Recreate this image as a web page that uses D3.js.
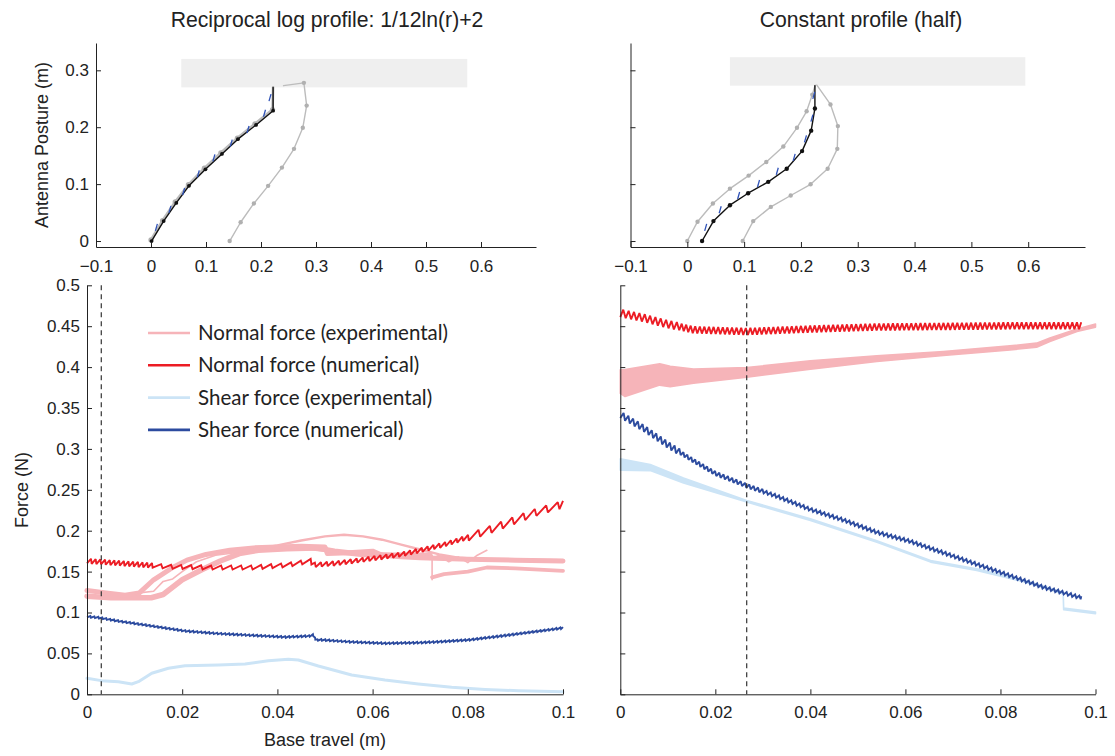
<!DOCTYPE html>
<html>
<head>
<meta charset="utf-8">
<script src="https://cdn.jsdelivr.net/npm/d3@7"></script>
<style>
  body { margin: 0; background: #fff; }
  svg { display: block; }
</style>
</head>
<body>
<svg id="fig" width="1115" height="756"></svg>
<script>
// ---------- antenna posture, [x, y] in metres ----------
const logPostureNumerical = [[0.001,0],[0.023,0.035],[0.046,0.067],[0.069,0.097],[0.099,0.126],[0.129,0.153],[0.158,0.179],[0.191,0.204],[0.222,0.229],[0.222,0.27]];
const logPostureMeasured  = [[0,0.002],[0.021,0.036],[0.044,0.069],[0.068,0.099],[0.097,0.128],[0.127,0.155],[0.157,0.181],[0.189,0.206],[0.221,0.231],[0.222,0.27]];
const logPostureInitial   = [[0.143,0],[0.163,0.033],[0.187,0.066],[0.213,0.097],[0.238,0.129],[0.26,0.162],[0.276,0.199],[0.283,0.238],[0.278,0.278],[0.241,0.273]];
const logForceMarks       = [[0.0094,0.024],[0.034,0.0557],[0.059,0.087],[0.0856,0.118],[0.114,0.146],[0.1455,0.172],[0.176,0.196],[0.206,0.2246],[0.216,0.252]];
const logObstacle         = [0.055, 0.575, 0.27, 0.32];   // x0, x1, y0, y1

const constPostureNumerical = [[0.026,0],[0.046,0.035],[0.075,0.063],[0.107,0.084],[0.1425,0.104],[0.175,0.127],[0.202,0.158],[0.218,0.194],[0.2246,0.233],[0.2246,0.273]];
const constPostureLeft      = [[0,0],[0.018,0.034],[0.045,0.066],[0.075,0.092],[0.108,0.115],[0.139,0.139],[0.169,0.166],[0.193,0.199],[0.21,0.228],[0.22,0.257],[0.225,0.274]];
const constPostureRight     = [[0.0975,0],[0.116,0.035],[0.147,0.06],[0.182,0.08],[0.217,0.0997],[0.247,0.127],[0.264,0.162],[0.265,0.202],[0.252,0.24],[0.228,0.274]];
const constForceMarks       = [[0.032,0.024],[0.0575,0.055],[0.09,0.08],[0.125,0.101],[0.158,0.1226],[0.1877,0.147],[0.2076,0.1795],[0.219,0.216],[0.2223,0.256]];
const constObstacle         = [0.075, 0.595, 0.273, 0.323];

// ---------- forces, [base travel (m), force (N)] ----------
const logNormalNum = [[0,0.163],[0.005,0.161],[0.01,0.159],[0.017,0.156],[0.026,0.155],[0.035,0.155],[0.042,0.158],[0.047,0.163],[0.0475,0.158],[0.052,0.16],[0.06,0.166],[0.066,0.171],[0.07,0.176],[0.075,0.183],[0.08,0.192],[0.085,0.202],[0.09,0.213],[0.095,0.224],[0.1,0.232]];
const logShearNum  = [[0,0.095],[0.0027,0.0936],[0.0066,0.0895],[0.0136,0.0835],[0.0206,0.0774],[0.0276,0.0742],[0.0346,0.0721],[0.0416,0.07],[0.047,0.0713],[0.0475,0.0725],[0.0482,0.0655],[0.0486,0.0668],[0.0556,0.064],[0.0626,0.0623],[0.0696,0.0631],[0.0731,0.064],[0.0801,0.0664],[0.0871,0.0713],[0.0941,0.0766],[0.1,0.0811]];
const logShearExp  = [[0,0.0196],[0.003,0.0167],[0.0066,0.0154],[0.0094,0.0126],[0.0108,0.0154],[0.0136,0.0257],[0.0171,0.0318],[0.0206,0.035],[0.0276,0.0358],[0.0332,0.037],[0.0381,0.041],[0.0423,0.0428],[0.0444,0.042],[0.0486,0.0346],[0.0556,0.0236],[0.0626,0.0175],[0.0696,0.0126],[0.0766,0.0085],[0.0836,0.006],[0.0906,0.0044],[0.1,0.003]];
// experimental normal-force trials
const logNormalTrial1 = [[0,0.127],[0.004,0.124],[0.008,0.121],[0.011,0.124],[0.014,0.14],[0.018,0.155],[0.021,0.164],[0.025,0.171],[0.03,0.176],[0.035,0.179],[0.04,0.18],[0.045,0.181],[0.05,0.18],[0.0505,0.172],[0.055,0.173],[0.06,0.175],[0.062,0.17],[0.066,0.168],[0.07,0.167],[0.075,0.166],[0.08,0.165],[0.09,0.164],[0.1,0.163]];
const logNormalTrial2 = [[0,0.12],[0.005,0.118],[0.01,0.118],[0.0135,0.118],[0.016,0.122],[0.02,0.14],[0.024,0.152],[0.028,0.163],[0.032,0.172],[0.036,0.176],[0.042,0.178],[0.048,0.179],[0.052,0.175],[0.058,0.171],[0.065,0.17],[0.072,0.17]];
const logNormalTrial2Drop = [[0.0725,0.17],[0.0725,0.14]];
const logNormalTrial2Tail = [[0.0725,0.143],[0.075,0.147],[0.08,0.15],[0.084,0.155],[0.09,0.154],[0.1,0.151]];
const logNormalTrial3 = [[0.008,0.122],[0.011,0.124],[0.014,0.126],[0.016,0.138],[0.018,0.141],[0.02,0.15],[0.023,0.162],[0.027,0.17],[0.035,0.176],[0.045,0.178],[0.055,0.172],[0.062,0.17],[0.068,0.168],[0.072,0.165],[0.074,0.17],[0.076,0.162],[0.078,0.168],[0.08,0.161],[0.082,0.17],[0.084,0.176]];
const logNormalTrial4 = [[0.03,0.174],[0.035,0.177],[0.04,0.182],[0.045,0.188],[0.05,0.193],[0.054,0.195],[0.058,0.193],[0.062,0.189],[0.066,0.183],[0.07,0.177],[0.074,0.171],[0.078,0.167],[0.084,0.165],[0.09,0.165],[0.1,0.164]];
const logContactTravel = 0.003;

const constNormalNum = [[0,0.466],[0.005,0.46],[0.009,0.4538],[0.0154,0.4456],[0.0266,0.4435],[0.04,0.4465],[0.054,0.449],[0.068,0.4497],[0.082,0.4505],[0.097,0.4505]];
const constShearNum  = [[0,0.342],[0.005,0.325],[0.01,0.305],[0.015,0.287],[0.02,0.27],[0.0266,0.255],[0.033,0.242],[0.04,0.226],[0.047,0.213],[0.054,0.198],[0.061,0.187],[0.068,0.173],[0.075,0.159],[0.082,0.145],[0.089,0.131],[0.097,0.118]];
// experimental bands: [travel, low, high]
const constNormalExpBand = [[0,0.368,0.3967],[0.001,0.364,0.397],[0.0083,0.378,0.404],[0.0105,0.376,0.401],[0.0154,0.3804,0.3975],[0.0266,0.3877,0.3995],[0.04,0.3975,0.4077],[0.054,0.4069,0.4138],[0.068,0.4142,0.419],[0.082,0.421,0.426],[0.0876,0.4244,0.4293],[0.0904,0.4313,0.4355],[0.0961,0.4435,0.4465],[0.1,0.4489,0.4526]];
const constShearExpBand  = [[0,0.2739,0.2878],[0.0063,0.2735,0.2808],[0.0133,0.2584,0.2645],[0.0266,0.235,0.237],[0.04,0.2126,0.2146],[0.054,0.1858,0.1878],[0.0653,0.1616,0.1636],[0.075,0.1514,0.1534],[0.0852,0.137,0.139],[0.0932,0.1227,0.1247],[0.0933,0.1034,0.1054],[0.1,0.0985,0.1005]];
const constContactTravel = 0.0266;

// ---------- ticks and text ----------
const postureXTicks  = [-0.1,0,0.1,0.2,0.3,0.4,0.5,0.6];
const postureXLabels = ["\u22120.1","0","0.1","0.2","0.3","0.4","0.5","0.6"];
const postureYTicks  = [0,0.1,0.2,0.3];
const postureYLabels = ["0","0.1","0.2","0.3"];
const travelTicks    = [0,0.02,0.04,0.06,0.08,0.1];
const travelLabels   = ["0","0.02","0.04","0.06","0.08","0.1"];
const forceTicks     = [0,0.05,0.1,0.15,0.2,0.25,0.3,0.35,0.4,0.45,0.5];
const forceLabels    = ["0","0.05","0.1","0.15","0.2","0.25","0.3","0.35","0.4","0.45","0.5"];
const legendLabels   = ["Normal force (experimental)","Normal force (numerical)","Shear force (experimental)","Shear force (numerical)"];
const panelTitles    = ["Reciprocal log profile: 1/12ln(r)+2","Constant profile (half)"];

// ---------- styling ----------
const FONT = '"Liberation Sans", Arial, Helvetica, sans-serif';
const INK = "#222";
const C = {
  normalExp: "#f6b4b9", normalNum: "#ec1c24",
  shearExp: "#cce4f6", shearNum: "#2c4b9f",
  grey: "#bcbcbc", greyDot: "#b0b0b0", black: "#111", mark: "#2f52b8", obstacle: "#efefef"
};

const svg = d3.select("#fig");

// scales
const pxL = d3.scaleLinear().domain([-0.1, 0.7]).range([96, 536]);
const pxR = d3.scaleLinear().domain([-0.1, 0.7]).range([630.5, 1085]);
const pyT = d3.scaleLinear().domain([-0.0105, 0.348]).range([247, 43]);
const txL = d3.scaleLinear().domain([0, 0.1]).range([87, 563]);
const txR = d3.scaleLinear().domain([0, 0.1]).range([620.3, 1095.5]);
const fy  = d3.scaleLinear().domain([0, 0.5]).range([694.3, 285.3]);

function styleAxis(sel, size) {
  sel.attr("font-family", null).attr("font-size", null);
  sel.select(".domain").attr("stroke", INK).attr("stroke-width", 1);
  sel.selectAll(".tick line").attr("stroke", INK).attr("stroke-width", 1);
  sel.selectAll(".tick text").attr("fill", INK)
     .style("font-family", FONT).style("font-size", size + "px");
}

function axes(x, y, xt, xl, yt, yl, opt) {
  const g = svg.append("g");
  g.append("g").attr("transform", `translate(0,${y.range()[0]})`)
    .call(d3.axisBottom(x).tickValues(xt).tickFormat((d, i) => xl[i])
      .tickSizeInner(-5).tickSizeOuter(0).tickPadding(opt.xPad))
    .call(s => styleAxis(s, opt.size));
  g.append("g").attr("transform", `translate(${x.range()[0]},0)`)
    .call(d3.axisLeft(y).tickValues(yt).tickFormat((d, i) => opt.yLabels ? yl[i] : "")
      .tickSizeInner(-5).tickSizeOuter(0).tickPadding(7))
    .call(s => styleAxis(s, opt.size));
}

// zig-zag stroke pattern (integration ripple) laid along a pixel polyline
function ripple(pts, steps, rise) {
  const cum = [0];
  for (let i = 1; i < pts.length; i++)
    cum.push(cum[i - 1] + Math.hypot(pts[i][0] - pts[i - 1][0], pts[i][1] - pts[i - 1][1]));
  const L = cum[cum.length - 1];
  const at = s => {
    let i = 1;
    while (i < cum.length - 1 && cum[i] < s) i++;
    const t = cum[i] === cum[i - 1] ? 0 : (s - cum[i - 1]) / (cum[i] - cum[i - 1]);
    return [pts[i - 1][0] + t * (pts[i][0] - pts[i - 1][0]), pts[i - 1][1] + t * (pts[i][1] - pts[i - 1][1])];
  };
  const out = [];
  let s = 0;
  while (s <= L) {
    const p = at(s);
    let st = steps[0];
    for (const q of steps) if (p[0] >= q[0]) st = q;
    const [, period, amp] = st;
    out.push([p[0], p[1] + amp / 2]);
    const b = at(Math.min(s + rise * period, L));
    out.push([b[0], b[1] - amp / 2]);
    s += period;
  }
  return out;
}

const lineGen = d3.line();

function plainLine(data, x, y, color, width, join) {
  svg.append("path")
    .attr("d", lineGen(data.map(d => [x(d[0]), y(d[1])])))
    .attr("fill", "none").attr("stroke", color).attr("stroke-width", width)
    .attr("stroke-linejoin", join || "round").attr("stroke-linecap", "round");
}

function rippleLine(data, x, y, color, width, steps, rise) {
  const px = data.map(d => [x(d[0]), y(d[1])]);
  const pxSteps = steps.map(s => [x(s[0]), s[1], s[2]]);
  svg.append("path")
    .attr("d", lineGen(ripple(px, pxSteps, rise)))
    .attr("fill", "none").attr("stroke", color).attr("stroke-width", width)
    .attr("stroke-linejoin", "miter").attr("stroke-miterlimit", 2);
}

function band(data, x, y, color) {
  svg.append("path")
    .attr("d", d3.area().x(d => x(d[0])).y0(d => y(d[1])).y1(d => y(d[2]))(data))
    .attr("fill", color).attr("stroke", color).attr("stroke-width", 1.6).attr("stroke-linejoin", "round");
}

// ---------- top panels: antenna posture ----------
function posturePanel(x, obstacle, curves, marks) {
  svg.append("rect")
    .attr("x", x(obstacle[0])).attr("y", pyT(obstacle[3]))
    .attr("width", x(obstacle[1]) - x(obstacle[0]))
    .attr("height", pyT(obstacle[2]) - pyT(obstacle[3]))
    .attr("fill", C.obstacle);
  curves.forEach(c => {
    plainLine(c.data, x, pyT, c.color, c.width);
    svg.append("g").selectAll("circle")
      .data(c.data.slice(0, c.data.length - 1))
      .join("circle")
      .attr("cx", d => x(d[0])).attr("cy", d => pyT(d[1]))
      .attr("r", c.r).attr("fill", c.dot);
  });
  svg.append("g").selectAll("line").data(marks).join("line")
    .attr("x1", d => x(d[0]) - 0.8).attr("y1", d => pyT(d[1]) + 3.5)
    .attr("x2", d => x(d[0]) + 1.2).attr("y2", d => pyT(d[1]) - 3.5)
    .attr("stroke", C.mark).attr("stroke-width", 1.3);
}

posturePanel(pxL, logObstacle, [
  { data: logPostureInitial, color: C.grey, dot: C.greyDot, width: 1.4, r: 2.2 },
  { data: logPostureMeasured, color: C.grey, dot: C.greyDot, width: 2.6, r: 2.6 },
  { data: logPostureNumerical, color: C.black, dot: C.black, width: 1.4, r: 1.9 }
], logForceMarks);

posturePanel(pxR, constObstacle, [
  { data: constPostureLeft, color: C.grey, dot: C.greyDot, width: 1.4, r: 2.2 },
  { data: constPostureRight, color: C.grey, dot: C.greyDot, width: 1.4, r: 2.2 },
  { data: constPostureNumerical, color: C.black, dot: C.black, width: 1.4, r: 2.2 }
], constForceMarks);

axes(pxL, pyT, postureXTicks, postureXLabels, postureYTicks, postureYLabels, { xPad: 13, size: 17, yLabels: true });
axes(pxR, pyT, postureXTicks, postureXLabels, postureYTicks, postureYLabels, { xPad: 13, size: 17, yLabels: false });

// ---------- bottom-left: reciprocal log profile forces ----------
plainLine(logShearExp, txL, fy, C.shearExp, 3);
plainLine(logNormalTrial2, txL, fy, C.normalExp, 5.5);
plainLine(logNormalTrial2Drop, txL, fy, C.normalExp, 1.6);
plainLine(logNormalTrial2Tail, txL, fy, C.normalExp, 3.8);
plainLine(logNormalTrial1, txL, fy, C.normalExp, 5);
plainLine(logNormalTrial3, txL, fy, C.normalExp, 1.6);
plainLine(logNormalTrial4, txL, fy, C.normalExp, 2.4);
rippleLine(logShearNum, txL, fy, C.shearNum, 1.9, [[0, 4, 1.6]], 0.85);
rippleLine(logNormalNum, txL, fy, C.normalNum, 1.9,
  [[0, 4.7, 5], [0.013, 10, 4], [0.047, 6, 4.5], [0.08, 12, 7.5]], 0.85);

svg.append("line")
  .attr("x1", txL(logContactTravel)).attr("x2", txL(logContactTravel))
  .attr("y1", fy(0.5)).attr("y2", fy(0))
  .attr("stroke", "#333").attr("stroke-width", 1.2).attr("stroke-dasharray", "5,4");

// ---------- bottom-right: constant profile forces ----------
band(constNormalExpBand, txR, fy, C.normalExp);
band(constShearExpBand, txR, fy, C.shearExp);
rippleLine(constNormalNum, txR, fy, C.normalNum, 1.9, [[0, 5.5, 8], [0.012, 4.6, 7]], 0.55);
rippleLine(constShearNum, txR, fy, C.shearNum, 1.9, [[0, 5.5, 7], [0.012, 4.6, 4.5], [0.03, 4.4, 3.3]], 0.7);

svg.append("line")
  .attr("x1", txR(constContactTravel)).attr("x2", txR(constContactTravel))
  .attr("y1", fy(0.5)).attr("y2", fy(0))
  .attr("stroke", "#333").attr("stroke-width", 1.2).attr("stroke-dasharray", "5,4");

axes(txL, fy, travelTicks, travelLabels, forceTicks, forceLabels, { xPad: 12, size: 17, yLabels: true });
axes(txR, fy, travelTicks, travelLabels, forceTicks, forceLabels, { xPad: 12, size: 17, yLabels: false });

// ---------- legend ----------
const legendColors = [C.normalExp, C.normalNum, C.shearExp, C.shearNum];
const lg = svg.append("g").attr("transform", "translate(148,333)");
legendLabels.forEach((t, i) => {
  const yy = i * 32.3;
  lg.append("line").attr("x1", 0).attr("x2", 42).attr("y1", yy).attr("y2", yy)
    .attr("stroke", legendColors[i]).attr("stroke-width", 2.6);
  lg.append("text").attr("x", 50).attr("y", yy).attr("dy", "0.35em")
    .style("font-family", "Lato, 'Open Sans', sans-serif").style("font-size", "20.5px")
    .attr("fill", INK).text(t);
});

// ---------- titles and axis labels ----------
function label(t, x, y, rot, size) {
  svg.append("text").attr("text-anchor", "middle")
    .attr("transform", `translate(${x},${y})` + (rot ? ` rotate(${rot})` : ""))
    .style("font-family", FONT).style("font-size", size + "px").attr("fill", INK).text(t);
}
label(panelTitles[0], 327, 27, 0, 21.2);
label(panelTitles[1], 861, 27, 0, 21.2);
label("Antenna Posture (m)", 48, 145, -90, 18);
label("Force (N)", 28, 490, -90, 18);
label("Base travel (m)", 325, 746, 0, 18);
</script>
</body>
</html>
